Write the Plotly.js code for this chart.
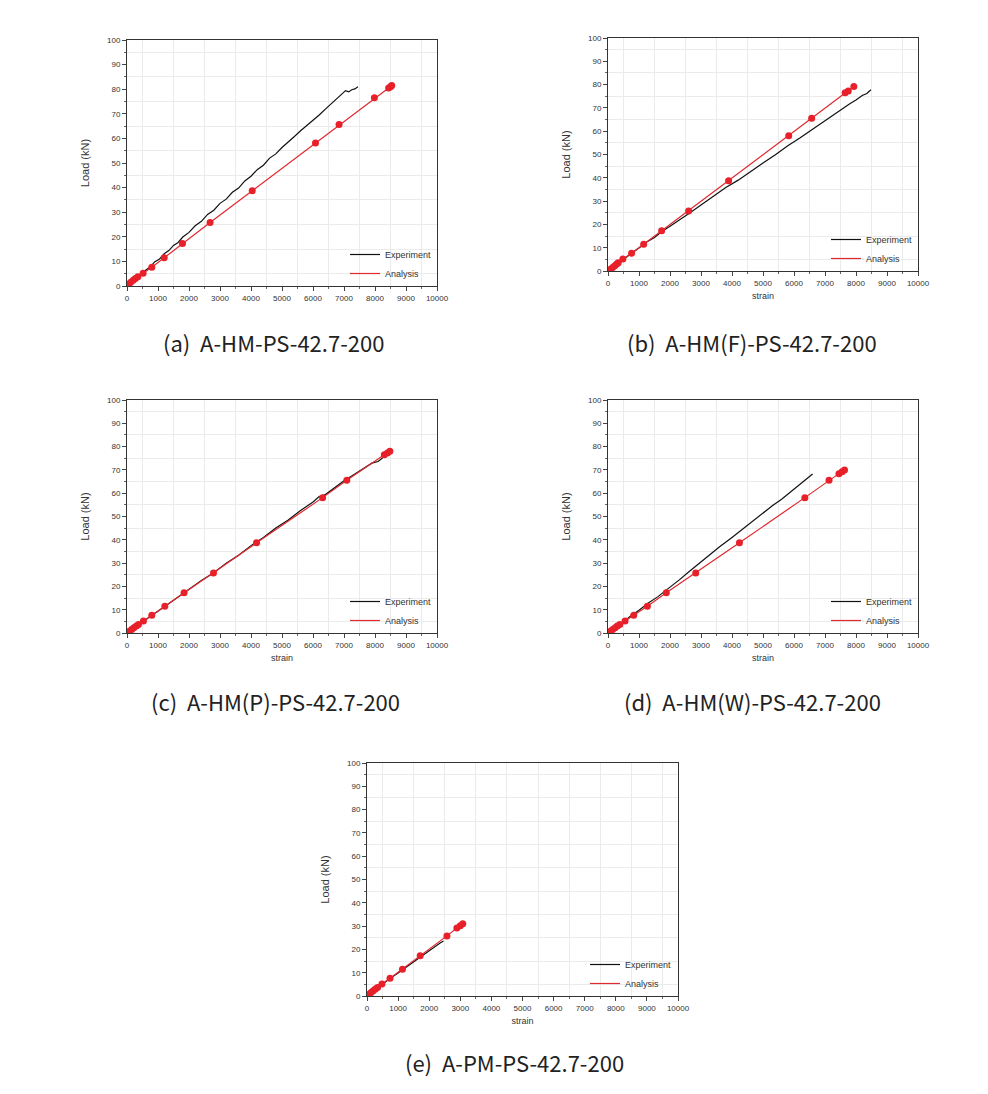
<!DOCTYPE html>
<html>
<head>
<meta charset="utf-8">
<script src="https://cdn.plot.ly/plotly-3.0.1.min.js"></script>
<style>html,body{margin:0;padding:0;background:#fff;}#chart{width:988px;height:1094px;}</style>
</head>
<body>
<div id="chart"></div>
<script>
// ---------- data ----------
const panelCaptions = ["(a)\u00a0\u00a0A-HM-PS-42.7-200", "(b)\u00a0\u00a0A-HM(F)-PS-42.7-200", "(c)\u00a0\u00a0A-HM(P)-PS-42.7-200", "(d)\u00a0\u00a0A-HM(W)-PS-42.7-200", "(e)\u00a0\u00a0A-PM-PS-42.7-200"];
const seriesNames = ["Experiment", "Analysis"];
const xTitle = "strain";
const yTitle = "Load (kN)";

// (a)
const expA_x = [0,150,300,450,600,750,900,1050,1200,1350,1500,1650,1800,2000,2200,2400,2600,2800,3000,3200,3400,3600,3800,4000,4200,4400,4600,4800,5000,5200,5400,5600,5800,6000,6200,6400,6600,6800,6900,7000,7050,7150,7250,7350,7450];
const expA_y = [0,1.4,3.2,4.5,6.4,7.8,9.9,11.0,13.1,14.4,16.5,17.7,19.9,21.8,24.5,26.3,29.1,30.8,33.6,35.3,38.1,39.8,42.7,44.6,47.3,49.1,52.0,53.7,56.3,58.4,60.8,63.1,65.2,67.4,69.5,71.9,74.1,76.6,77.4,78.6,79.4,78.9,79.8,80.1,81.0];
const anaA_x = [0,60,120,200,270,350,520,800,1200,1790,2680,4040,6080,6840,7980,8440,8500,8540];
const anaA_y = [0,0.8,1.5,2.3,3.0,3.8,5.2,7.6,11.5,17.3,25.8,38.7,58.1,65.6,76.5,80.5,81.0,81.5];

// (b)
const expB_x = [0,250,500,750,1000,1250,1500,1750,2000,2300,2600,3000,3400,3800,4200,4600,5000,5400,5800,6200,6600,7000,7300,7600,7800,8000,8200,8350,8480];
const expB_y = [0,2.6,4.8,7.5,9.9,12.4,14.4,17.1,19.2,22.1,24.6,28.3,31.9,35.8,39.0,42.8,46.4,49.9,53.8,57.2,60.9,64.6,67.1,70.0,71.8,73.4,75.3,76.2,77.8];
const anaB_x = [0,80,150,220,280,330,480,760,1150,1730,2600,3890,5830,6570,7650,7750,7930];
const anaB_y = [0,0.8,1.5,2.3,3.0,3.5,5.2,7.6,11.5,17.3,25.8,38.7,58.1,65.6,76.5,77.3,79.2];

// (c)
const expC_x = [0,250,500,750,1000,1300,1600,2000,2400,2800,3200,3600,4000,4400,4800,5200,5600,6000,6200,6400,6600,6800,7000,7300,7600,7900,8100,8250];
const expC_y = [0,2.5,4.5,7.2,9.3,12.2,14.8,18.6,22.5,25.9,29.9,33.4,37.5,41.0,45.1,48.5,52.6,56.2,58.6,59.4,61.4,63.1,65.3,67.8,70.3,72.9,73.6,75.2];
const anaC_x = [0,80,150,220,300,370,530,800,1220,1840,2790,4180,6310,7090,8300,8400,8480];
const anaC_y = [0,0.8,1.5,2.3,3.0,3.6,5.2,7.6,11.5,17.3,25.8,38.7,58.1,65.6,76.5,77.3,78.0];

// (d)
const expD_x = [0,250,500,750,1000,1300,1600,2000,2300,2600,2800,3000,3300,3600,4000,4300,4600,5000,5300,5600,6000,6300,6600];
const expD_y = [0,2.6,4.7,7.5,9.8,12.9,15.5,19.6,22.8,26.2,28.4,30.3,33.7,37.0,41.0,44.2,47.2,51.3,54.6,57.4,61.8,64.8,68.2];
const anaD_x = [0,80,150,230,300,380,550,830,1270,1880,2830,4240,6350,7130,7450,7550,7630];
const anaD_y = [0,0.8,1.5,2.3,3.0,3.6,5.2,7.6,11.5,17.3,25.8,38.7,58.1,65.6,68.4,69.2,70.0];

// (e)
const expE_x = [0,250,500,750,1000,1250,1500,1750,2000,2200,2350,2460];
const expE_y = [0,2.6,4.9,7.6,9.9,12.3,14.9,17.2,19.3,21.4,22.7,23.6];
const anaE_x = [0,70,130,200,270,340,480,740,1140,1710,2570,2890,3000,3080];
const anaE_y = [0,0.8,1.5,2.3,3.0,3.6,5.2,7.6,11.5,17.3,25.8,29.2,30.2,31.0];

const xRange = [0, 10000];
const yRange = [0, 100];

// ---------- layout geometry (pixels) ----------
const W = 988, H = 1094;
const panels = [
  {L:127, R:437, T:40,  B:286, ex:expA_x, ey:expA_y, ax:anaA_x, ay:anaA_y, xt:false, cx:273, cy:342},
  {L:608, R:918, T:38,  B:271, ex:expB_x, ey:expB_y, ax:anaB_x, ay:anaB_y, xt:true,  cx:752, cy:342},
  {L:127, R:437, T:400, B:633, ex:expC_x, ey:expC_y, ax:anaC_x, ay:anaC_y, xt:true,  cx:275, cy:701},
  {L:608, R:918, T:400, B:633, ex:expD_x, ey:expD_y, ax:anaD_x, ay:anaD_y, xt:true,  cx:752, cy:701},
  {L:367, R:678, T:763, B:996, ex:expE_x, ey:expE_y, ax:anaE_x, ay:anaE_y, xt:true,  cx:514, cy:1062}
];

const traces = [];
const layout = {
  width: W, height: H,
  margin: {l:0, r:0, t:0, b:0},
  paper_bgcolor: '#ffffff',
  plot_bgcolor: '#ffffff',
  font: {family: 'Liberation Sans, Arial, sans-serif', color: '#333'},
  annotations: [],
  showlegend: true
};

function axisCommon() {
  return {
    showline: true, linecolor: '#333333', linewidth: 1, mirror: true,
    ticks: 'outside', ticklen: 4, tickwidth: 1, tickcolor: '#444',
    showgrid: false, zeroline: false, tickformat: 'd',
    tickfont: {size: 8, color: '#333', family: 'Liberation Sans, Arial, sans-serif'},
    minor: {ticks: 'outside', ticklen: 2, tickcolor: '#666', showgrid: true, gridcolor: '#ebebeb', gridwidth: 1}
  };
}

panels.forEach((p, i) => {
  const n = i + 1;
  const xk = n === 1 ? 'xaxis' : 'xaxis' + n;
  const yk = n === 1 ? 'yaxis' : 'yaxis' + n;
  const xr = n === 1 ? 'x' : 'x' + n;
  const yr = n === 1 ? 'y' : 'y' + n;
  const lk = n === 1 ? 'legend' : 'legend' + n;

  const xa = axisCommon();
  xa.domain = [p.L / W, p.R / W];
  xa.anchor = yr;
  xa.range = xRange;
  xa.dtick = 1000; xa.tick0 = 0;
  xa.minor.dtick = 500;
  if (p.xt) xa.title = {text: xTitle, font: {size: 9, color: '#333'}, standoff: 6};
  layout[xk] = xa;

  const ya = axisCommon();
  ya.domain = [1 - p.B / H, 1 - p.T / H];
  ya.anchor = xr;
  ya.range = yRange;
  ya.dtick = 10; ya.tick0 = 0;
  ya.minor.dtick = 5;
  ya.title = {text: yTitle, font: {size: 11, color: '#333'}, standoff: 15};
  layout[yk] = ya;

  traces.push({
    x: p.ex, y: p.ey, xaxis: xr, yaxis: yr, name: seriesNames[0], legend: lk,
    mode: 'lines', line: {color: '#111111', width: 1.2}
  });
  traces.push({
    x: p.ax, y: p.ay, xaxis: xr, yaxis: yr, name: seriesNames[1], legend: lk,
    mode: 'lines', line: {color: '#e0282e', width: 1.2}
  });
  traces.push({
    x: p.ax, y: p.ay, xaxis: xr, yaxis: yr, name: seriesNames[1], showlegend: false,
    mode: 'markers', marker: {color: '#e8202a', size: 7, symbol: 'circle'}
  });

  layout[lk] = {
    x: (p.L + 218) / W, xanchor: 'left',
    y: 1 - (p.B - 46) / H, yanchor: 'top',
    bgcolor: 'rgba(0,0,0,0)', borderwidth: 0,
    font: {size: 9, color: '#333'},
    itemwidth: 30, tracegroupgap: 0, itemclick: false
  };

  layout.annotations.push({
    text: panelCaptions[i], xref: 'paper', yref: 'paper',
    x: p.cx / W, y: 1 - p.cy / H, xanchor: 'center', yanchor: 'middle',
    showarrow: false,
    font: {family: 'Noto Sans CJK KR, Noto Sans, sans-serif', size: 22, color: '#222'}
  });
});

Plotly.newPlot('chart', traces, layout, {staticPlot: true, displayModeBar: false});
</script>
</body>
</html>
